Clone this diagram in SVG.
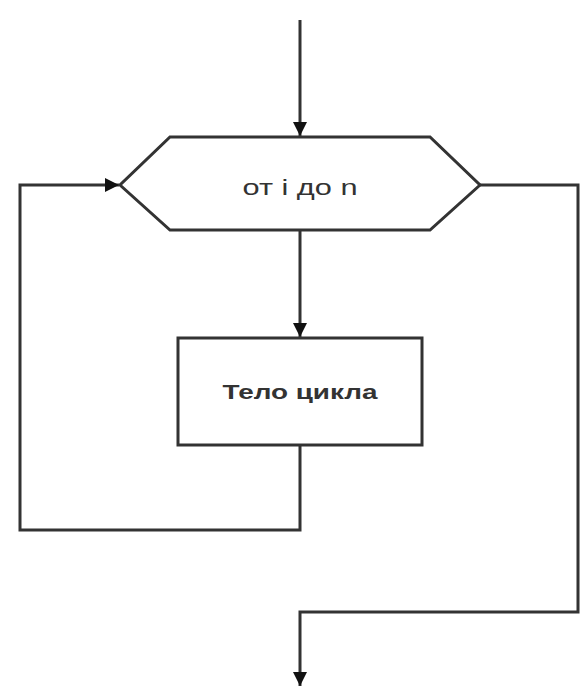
<svg xmlns="http://www.w3.org/2000/svg" width="580" height="689" viewBox="0 0 580 689">
<style>
.ln{fill:none;stroke:#333;stroke-width:3;stroke-linejoin:miter}
.shape{fill:#fff;stroke:#333;stroke-width:3}
.t{font-family:"Liberation Sans",Arial,sans-serif;fill:#333;text-anchor:middle}
</style>
<defs>
<marker id="arr" viewBox="0 0 14 14" refX="14" refY="7" markerWidth="14" markerHeight="14" markerUnits="userSpaceOnUse" orient="auto">
<path d="M0,0 L14,7 L0,14 Z" fill="#111"/>
</marker>
</defs>
<rect width="580" height="689" fill="#fff"/>
<g id="connectors">
<line class="ln" x1="300" y1="20" x2="300" y2="136" marker-end="url(#arr)"/>
<line class="ln" x1="300" y1="230" x2="300" y2="337" marker-end="url(#arr)"/>
<polyline class="ln" points="300,446 300,530 20,530 20,185 119,185" marker-end="url(#arr)"/>
<polyline class="ln" points="480,185 578,185 578,612 300,612 300,686" marker-end="url(#arr)"/>
</g>
<g id="loop">
<polygon class="shape" points="170,137 430,137 480,185 430,230 170,230 120,185"/>
<text class="t" x="300" y="195" font-size="22" fill="#444" textLength="115" lengthAdjust="spacingAndGlyphs">от і до n</text>
</g>
<g id="body">
<rect class="shape" x="178" y="338" width="244" height="107"/>
<text class="t" x="300" y="399" font-size="21" font-weight="bold" textLength="155" lengthAdjust="spacingAndGlyphs">Тело цикла</text>
</g>
</svg>
